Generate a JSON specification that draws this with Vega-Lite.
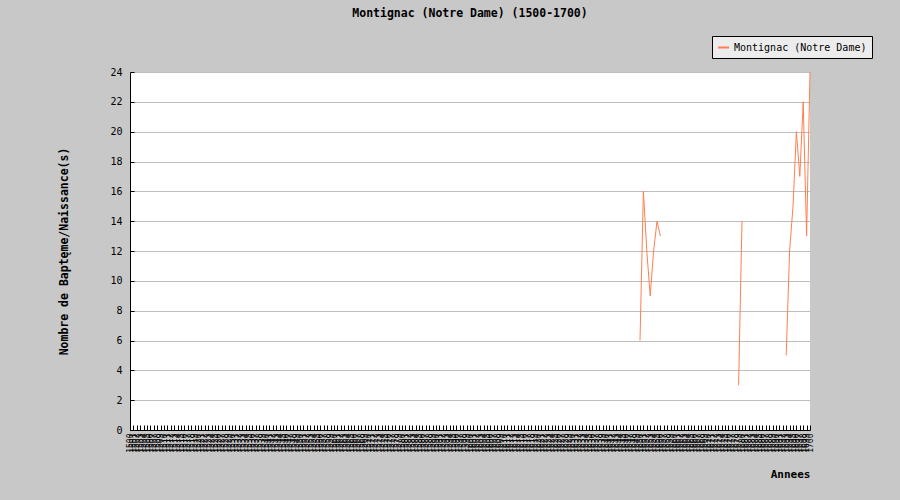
{
"$schema": "https://vega.github.io/schema/vega-lite/v6.json",
"width": 680,
"height": 358,
"autosize": {"type": "none"},
"padding": {"left": 130, "top": 72, "right": 90, "bottom": 70},
"background": "#c8c8c8",
"title": {"text": "Montignac (Notre Dame) (1500-1700)", "font": "DejaVu Sans Mono", "fontSize": 11.5, "fontWeight": "bold", "color": "black", "anchor": "middle", "frame": "group", "offset": 16},
"config": {"view": {"fill": "white", "stroke": null}},
"data": {"values": [
{"annee":1500,"nombre":null},{"annee":1501,"nombre":null},{"annee":1502,"nombre":null},{"annee":1503,"nombre":null},{"annee":1504,"nombre":null},{"annee":1505,"nombre":null},{"annee":1506,"nombre":null},{"annee":1507,"nombre":null},{"annee":1508,"nombre":null},{"annee":1509,"nombre":null},
{"annee":1510,"nombre":null},{"annee":1511,"nombre":null},{"annee":1512,"nombre":null},{"annee":1513,"nombre":null},{"annee":1514,"nombre":null},{"annee":1515,"nombre":null},{"annee":1516,"nombre":null},{"annee":1517,"nombre":null},{"annee":1518,"nombre":null},{"annee":1519,"nombre":null},
{"annee":1520,"nombre":null},{"annee":1521,"nombre":null},{"annee":1522,"nombre":null},{"annee":1523,"nombre":null},{"annee":1524,"nombre":null},{"annee":1525,"nombre":null},{"annee":1526,"nombre":null},{"annee":1527,"nombre":null},{"annee":1528,"nombre":null},{"annee":1529,"nombre":null},
{"annee":1530,"nombre":null},{"annee":1531,"nombre":null},{"annee":1532,"nombre":null},{"annee":1533,"nombre":null},{"annee":1534,"nombre":null},{"annee":1535,"nombre":null},{"annee":1536,"nombre":null},{"annee":1537,"nombre":null},{"annee":1538,"nombre":null},{"annee":1539,"nombre":null},
{"annee":1540,"nombre":null},{"annee":1541,"nombre":null},{"annee":1542,"nombre":null},{"annee":1543,"nombre":null},{"annee":1544,"nombre":null},{"annee":1545,"nombre":null},{"annee":1546,"nombre":null},{"annee":1547,"nombre":null},{"annee":1548,"nombre":null},{"annee":1549,"nombre":null},
{"annee":1550,"nombre":null},{"annee":1551,"nombre":null},{"annee":1552,"nombre":null},{"annee":1553,"nombre":null},{"annee":1554,"nombre":null},{"annee":1555,"nombre":null},{"annee":1556,"nombre":null},{"annee":1557,"nombre":null},{"annee":1558,"nombre":null},{"annee":1559,"nombre":null},
{"annee":1560,"nombre":null},{"annee":1561,"nombre":null},{"annee":1562,"nombre":null},{"annee":1563,"nombre":null},{"annee":1564,"nombre":null},{"annee":1565,"nombre":null},{"annee":1566,"nombre":null},{"annee":1567,"nombre":null},{"annee":1568,"nombre":null},{"annee":1569,"nombre":null},
{"annee":1570,"nombre":null},{"annee":1571,"nombre":null},{"annee":1572,"nombre":null},{"annee":1573,"nombre":null},{"annee":1574,"nombre":null},{"annee":1575,"nombre":null},{"annee":1576,"nombre":null},{"annee":1577,"nombre":null},{"annee":1578,"nombre":null},{"annee":1579,"nombre":null},
{"annee":1580,"nombre":null},{"annee":1581,"nombre":null},{"annee":1582,"nombre":null},{"annee":1583,"nombre":null},{"annee":1584,"nombre":null},{"annee":1585,"nombre":null},{"annee":1586,"nombre":null},{"annee":1587,"nombre":null},{"annee":1588,"nombre":null},{"annee":1589,"nombre":null},
{"annee":1590,"nombre":null},{"annee":1591,"nombre":null},{"annee":1592,"nombre":null},{"annee":1593,"nombre":null},{"annee":1594,"nombre":null},{"annee":1595,"nombre":null},{"annee":1596,"nombre":null},{"annee":1597,"nombre":null},{"annee":1598,"nombre":null},{"annee":1599,"nombre":null},
{"annee":1600,"nombre":null},{"annee":1601,"nombre":null},{"annee":1602,"nombre":null},{"annee":1603,"nombre":null},{"annee":1604,"nombre":null},{"annee":1605,"nombre":null},{"annee":1606,"nombre":null},{"annee":1607,"nombre":null},{"annee":1608,"nombre":null},{"annee":1609,"nombre":null},
{"annee":1610,"nombre":null},{"annee":1611,"nombre":null},{"annee":1612,"nombre":null},{"annee":1613,"nombre":null},{"annee":1614,"nombre":null},{"annee":1615,"nombre":null},{"annee":1616,"nombre":null},{"annee":1617,"nombre":null},{"annee":1618,"nombre":null},{"annee":1619,"nombre":null},
{"annee":1620,"nombre":null},{"annee":1621,"nombre":null},{"annee":1622,"nombre":null},{"annee":1623,"nombre":null},{"annee":1624,"nombre":null},{"annee":1625,"nombre":null},{"annee":1626,"nombre":null},{"annee":1627,"nombre":null},{"annee":1628,"nombre":null},{"annee":1629,"nombre":null},
{"annee":1630,"nombre":null},{"annee":1631,"nombre":null},{"annee":1632,"nombre":null},{"annee":1633,"nombre":null},{"annee":1634,"nombre":null},{"annee":1635,"nombre":null},{"annee":1636,"nombre":null},{"annee":1637,"nombre":null},{"annee":1638,"nombre":null},{"annee":1639,"nombre":null},
{"annee":1640,"nombre":null},{"annee":1641,"nombre":null},{"annee":1642,"nombre":null},{"annee":1643,"nombre":null},{"annee":1644,"nombre":null},{"annee":1645,"nombre":null},{"annee":1646,"nombre":null},{"annee":1647,"nombre":null},{"annee":1648,"nombre":null},{"annee":1649,"nombre":null},
{"annee":1650,"nombre":6},{"annee":1651,"nombre":16},{"annee":1652,"nombre":12},{"annee":1653,"nombre":9},{"annee":1654,"nombre":12},{"annee":1655,"nombre":14},{"annee":1656,"nombre":13},{"annee":1657,"nombre":null},{"annee":1658,"nombre":null},{"annee":1659,"nombre":null},
{"annee":1660,"nombre":null},{"annee":1661,"nombre":null},{"annee":1662,"nombre":null},{"annee":1663,"nombre":null},{"annee":1664,"nombre":null},{"annee":1665,"nombre":null},{"annee":1666,"nombre":null},{"annee":1667,"nombre":null},{"annee":1668,"nombre":null},{"annee":1669,"nombre":null},
{"annee":1670,"nombre":null},{"annee":1671,"nombre":null},{"annee":1672,"nombre":null},{"annee":1673,"nombre":null},{"annee":1674,"nombre":null},{"annee":1675,"nombre":null},{"annee":1676,"nombre":null},{"annee":1677,"nombre":null},{"annee":1678,"nombre":null},{"annee":1679,"nombre":3},
{"annee":1680,"nombre":14},{"annee":1681,"nombre":null},{"annee":1682,"nombre":null},{"annee":1683,"nombre":null},{"annee":1684,"nombre":null},{"annee":1685,"nombre":null},{"annee":1686,"nombre":null},{"annee":1687,"nombre":null},{"annee":1688,"nombre":null},{"annee":1689,"nombre":null},
{"annee":1690,"nombre":null},{"annee":1691,"nombre":null},{"annee":1692,"nombre":null},{"annee":1693,"nombre":5},{"annee":1694,"nombre":12},{"annee":1695,"nombre":15},{"annee":1696,"nombre":20},{"annee":1697,"nombre":17},{"annee":1698,"nombre":22},{"annee":1699,"nombre":13},
{"annee":1700,"nombre":24}
]},
"mark": {"type": "line", "strokeWidth": 1, "invalid": "break-paths-show-domains"},
"encoding": {
  "x": {"field": "annee", "type": "ordinal", "scale": {"type": "point", "padding": 0},
        "axis": {"title": "Annees", "titleAnchor": "end", "titleFont": "DejaVu Sans Mono", "titleFontSize": 11, "titleFontWeight": "bold", "titleColor": "black", "titlePadding": 16,
                 "labelAngle": -90, "labelFont": "DejaVu Sans Mono", "labelFontSize": 8, "labelColor": "black", "labelOverlap": false, "labelPadding": 8,
                 "tickSize": -5, "tickColor": "black", "domainColor": "black", "grid": false}},
  "y": {"field": "nombre", "type": "quantitative", "scale": {"domain": [0, 24], "nice": false},
        "axis": {"title": "Nombre de Baptęme/Naissance(s)", "titleFont": "DejaVu Sans Mono", "titleFontSize": 11.5, "titleFontWeight": "bold", "titleColor": "black", "titlePadding": 40,
                 "values": [0,2,4,6,8,10,12,14,16,18,20,22,24], "labelFont": "DejaVu Sans Mono", "labelFontSize": 10, "labelColor": "black", "labelPadding": 12,
                 "tickSize": -4, "tickColor": "black", "domainColor": "black", "grid": true, "gridColor": "#bdbdbd"}},
  "color": {"datum": "Montignac (Notre Dame)", "scale": {"range": ["#ff7f50"]},
            "legend": {"title": null, "orient": "none", "legendX": 582, "legendY": -36, "fillColor": "#ececec", "strokeColor": "black", "padding": 5,
                       "labelFont": "DejaVu Sans Mono", "labelFontSize": 10, "labelColor": "black", "symbolType": "stroke", "symbolSize": 120, "symbolStrokeWidth": 2}}
}
}
